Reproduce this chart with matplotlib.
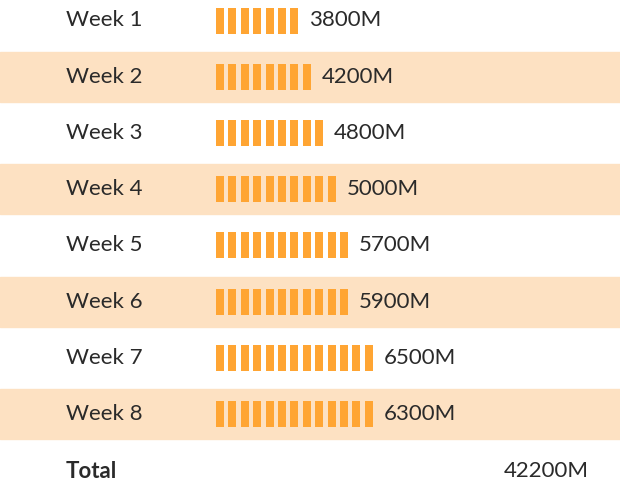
import numpy as np
import matplotlib
matplotlib.use('Agg')
import matplotlib.pyplot as plt

# Weekly values as pictogram rows
weeks = ['Week 1', 'Week 2', 'Week 3', 'Week 4', 'Week 5', 'Week 6', 'Week 7', 'Week 8']
values = [3800, 4200, 4800, 5000, 5700, 5900, 6500, 6300]
icons = [7, 8, 9, 10, 11, 11, 13, 13]  # icon count per row, as drawn

icon_color = '#FFA533'
band_color = '#FDE1C2'
text_color = '#2a2a2a'
font = ['Lato', 'DejaVu Sans']

fig = plt.figure(figsize=(6.2, 4.88), dpi=100)
ax = fig.add_axes([0, 0, 1, 1])
ax.set_xlim(0, 620)
ax.set_ylim(488, 0)
ax.axis('off')

row_pitch = 56.2
first_y = 20.5
icon_w, icon_h, icon_pitch = 8, 26, 12.4
x0 = 216

for i, (w, v, n) in enumerate(zip(weeks, values, icons)):
    yc = first_y + i * row_pitch
    if i % 2 == 1:
        ax.axhspan(yc - 25, yc + 25, color=band_color, zorder=0)
    ax.text(66, yc, w, fontsize=16, family=font, color=text_color,
            va='center', ha='left')
    xs = x0 + np.arange(n) * icon_pitch
    ax.bar(xs, icon_h, width=icon_w, bottom=yc - icon_h / 2, align='edge',
           color=icon_color, zorder=2)
    ax.text(xs[-1] + icon_w + 11, yc, f'{v}M', fontsize=16, family=font,
            color=text_color, va='center', ha='left')

ty = first_y + 8 * row_pitch + 1
ax.text(66, ty, 'Total', fontsize=16, family=font, fontweight='bold',
        color=text_color, va='center', ha='left')
ax.text(589, ty, f'{sum(values)}M', fontsize=16, family=font,
        color=text_color, va='center', ha='right')

plt.savefig('out.png', dpi=100)
